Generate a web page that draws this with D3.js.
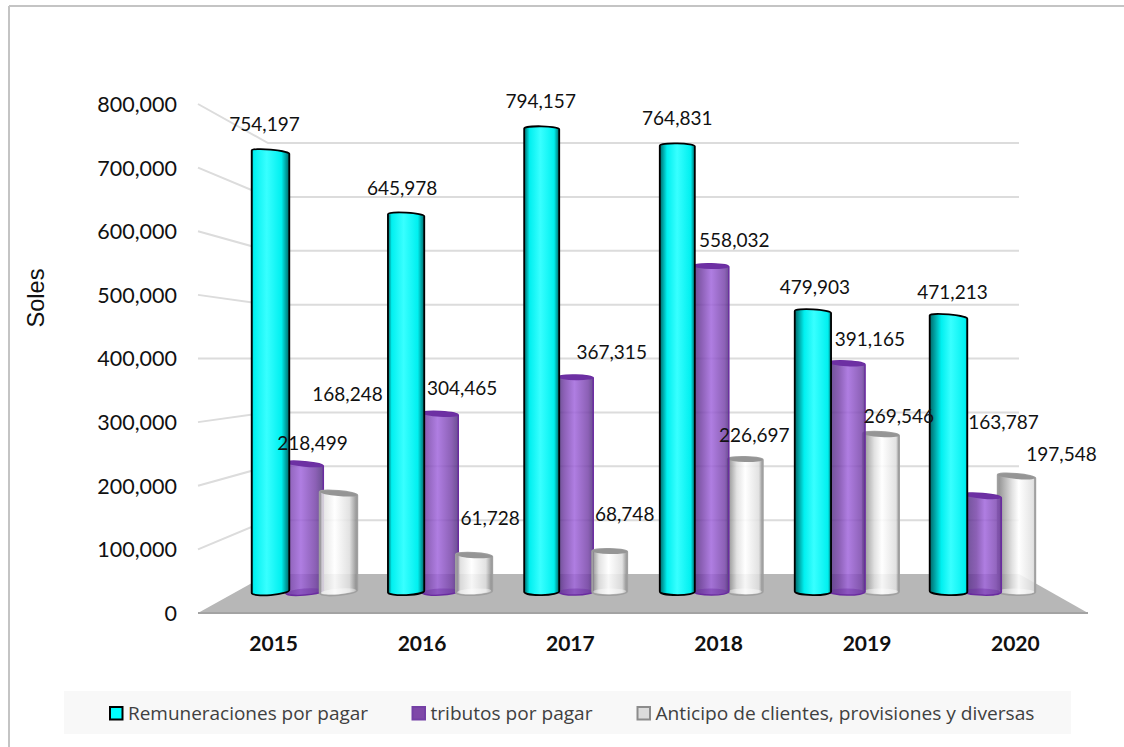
<!DOCTYPE html>
<html lang="es">
<head>
<meta charset="utf-8">
<title>Soles por año</title>
<script src="https://cdn.jsdelivr.net/npm/d3@7/dist/d3.min.js"></script>
<style>
  html, body { margin: 0; padding: 0; background: #fff; }
  svg { display: block; }
</style>
</head>
<body>
<svg id="chart" width="1124" height="747"></svg>
<script>
// Balances in soles, one array per series
const years = ["2015", "2016", "2017", "2018", "2019", "2020"];
const remuneraciones = [754197, 645978, 794157, 764831, 479903, 471213];
const tributos = [218499, 304465, 367315, 558032, 391165, 163787];
const anticipos = [168248, 61728, 68748, 226697, 269546, 197548];
const seriesNames = ["Remuneraciones por pagar", "tributos por pagar", "Anticipo de clientes, provisiones y diversas"];
const axisTicks = [0, 100000, 200000, 300000, 400000, 500000, 600000, 700000, 800000];

// Hand-placed label offsets from each cylinder's top centre, [dx, dy]
const remuneracionesNudge = [[-6,-28],[-4,-27],[-1,-28],[0,-28],[2,-25],[4,-25]];
const tributosNudge = [[8,-21],[22,-26],[36,-25],[23,-26],[23,-24],[21,-74]];
const anticiposNudge = [[9,-99],[16,-37],[15,-37],[9,-24],[18,-18],[45,-22]];

const series = [
  { key: "rem", values: remuneraciones, nudge: remuneracionesNudge, edge: "#000", cap: null, opacity: 1, strokeW: 1.8,
    dark: "#006768", mid: "#00f0f0", light: "#38ffff", shadeScale: 1 },
  { key: "tri", values: tributos, nudge: tributosNudge, edge: "#6a2ba0", cap: "#6d30a3", opacity: 0.84, strokeW: 1.5,
    dark: "#4f2f7d", mid: "#7642a8", light: "#a065dc", shadeScale: 1.1 },
  { key: "ant", values: anticipos, nudge: anticiposNudge, edge: "#a0a0a0", cap: "#959595", opacity: 0.88, strokeW: 1.8,
    dark: "#808080", mid: "#dedede", light: "#ffffff", shadeScale: 1.25 }
];

const svg = d3.select("#chart");
const defs = svg.append("defs");

// Outer frame: only the top and left rules are visible
svg.append("line").attr("x1", 9).attr("x2", 1124).attr("y1", 6).attr("y2", 6).attr("stroke", "#c4c4c4").attr("stroke-width", 2);
svg.append("line").attr("x1", 9).attr("x2", 9).attr("y1", 6).attr("y2", 747).attr("stroke", "#c4c4c4").attr("stroke-width", 2);

// Perspective box: front plane, back plane and the scale for bars standing mid-depth
const front = { left: 198, right: 1088, base: 613, top: 104 };
const back = { left: 268, right: 1019, base: 574, top: 143 };
const yFront = d3.scaleLinear().domain([0, 800000]).range([front.base, front.top]);
const yBack = d3.scaleLinear().domain([0, 800000]).range([back.base, back.top]);
const yBar = d3.scaleLinear().domain([0, 800000]).range([591.5, 125.5]);
const xFront = d3.scaleBand().domain(years).range([front.left, front.right]);
const xBars = d3.scaleBand().domain(years).range([236.7, 1050.3]);
const xSeries = d3.scalePoint().domain(series.map(s => s.key)).range([-34, 34]);
const BAR_BASE = yBar(0);

// Floor
svg.append("polygon")
  .attr("points", [[front.left, front.base], [front.right, front.base], [back.right, back.base], [back.left, back.base]].join(" "))
  .attr("fill", "#b7b7b7");
svg.append("line").attr("x1", front.left).attr("x2", front.right).attr("y1", front.base).attr("y2", front.base)
  .attr("stroke", "#a3a3a3").attr("stroke-width", 2);

// Gridlines along the back wall and down the side wall
const grid = svg.append("g").attr("stroke", "#dcdcdc").attr("stroke-width", 2).attr("fill", "none");
axisTicks.filter(d => d > 0).forEach(d => {
  grid.append("polyline")
    .attr("points", [[front.left, yFront(d)], [back.left, yBack(d)], [back.right, yBack(d)]].join(" "));
});

// Cylinder geometry; shading and cap skew follow the position across the floor
const centre = (xBars(years[0]) + xBars(years[5]) + xBars.bandwidth()) / 2;
const halfSpan = (xBars(years[5]) - xBars(years[0])) / 2;

function addGradient(id, s, t) {
  const shadeL = (0.05 + 0.13 * (t + 1)) * s.shadeScale;
  const shadeR = 0.05 + 0.08 * (1 - t);
  const hi = Math.max(shadeL + 0.1, 0.4 + 0.16 * (t + 1) / 2);
  const g = defs.append("linearGradient").attr("id", id).attr("x1", 0).attr("x2", 1).attr("y1", 0).attr("y2", 0);
  [[0, s.dark], [shadeL, s.mid], [hi, s.light], [1 - shadeR, s.mid], [1, s.dark]].forEach(([o, c]) => {
    g.append("stop").attr("offset", o).attr("stop-color", c);
  });
}

const barsLayer = svg.append("g");
years.forEach((year, i) => {
  // Toward the right of the floor the purple cylinder sits in front of the grey one
  const order = i >= 3 ? ["ant", "tri", "rem"] : ["tri", "ant", "rem"];
  order.forEach(key => {
    const s = series.find(e => e.key === key);
    const cx = xBars(year) + xBars.bandwidth() / 2 + xSeries(key);
    const t = (xBars(year) + xBars.bandwidth() / 2 - centre) / halfSpan;
    const rx = 17.2 + 1.6 * Math.abs(t);
    const ryTop = 2.6;
    const ryBase = 3.6;
    const tilt = 1.7 * Math.abs(t);
    const baseTilt = t < 0 ? -1.5 * Math.abs(t) : 0.5 * t;
    const top = yBar(s.values[i]);
    const rot = Math.atan2(tilt, rx) * 180 / Math.PI;
    const rotB = Math.atan2(baseTilt, rx) * 180 / Math.PI;
    const id = `cyl-${s.key}-${year}`;
    addGradient(id, s, t);
    const g = barsLayer.append("g").attr("class", "cylinder");
    g.append("path")
      .attr("d", `M${cx - rx} ${top - tilt}L${cx - rx} ${BAR_BASE - baseTilt}` +
        `A${rx} ${ryBase} ${rotB} 0 0 ${cx + rx} ${BAR_BASE + baseTilt}` +
        `L${cx + rx} ${top + tilt}` +
        `A${rx} ${ryTop} ${rot} 0 0 ${cx - rx} ${top - tilt}Z`)
      .attr("fill", `url(#${id})`)
      .attr("fill-opacity", s.opacity)
      .attr("stroke", s.edge)
      .attr("stroke-width", s.strokeW)
      .attr("stroke-linejoin", "round");
    if (s.cap) {
      // Lid, plus the faint rim of the base seen through the translucent body
      g.append("ellipse").attr("cx", cx).attr("cy", top)
        .attr("rx", rx).attr("ry", ryTop)
        .attr("transform", `rotate(${rot} ${cx} ${top})`)
        .attr("fill", s.cap);
      g.append("ellipse").attr("cx", cx).attr("cy", BAR_BASE)
        .attr("rx", rx - 1).attr("ry", ryBase - 0.6)
        .attr("transform", `rotate(${rotB} ${cx} ${BAR_BASE})`)
        .attr("fill", key === "tri" ? "#6a2ba0" : "#ffffff")
        .attr("fill-opacity", key === "tri" ? 0.4 : 0.4);
    }
  });
});

// Value labels
const labels = svg.append("g")
  .attr("font-family", "Lato, 'Noto Sans', sans-serif")
  .attr("font-size", 19)
  .attr("fill", "#111")
  .attr("text-anchor", "middle");
series.forEach(s => {
  years.forEach((year, i) => {
    const cx = xBars(year) + xBars.bandwidth() / 2 + xSeries(s.key);
    labels.append("text")
      .attr("x", cx + s.nudge[i][0])
      .attr("y", yBar(s.values[i]) + s.nudge[i][1])
      .attr("dy", "0.35em")
      .text(d3.format(",")(s.values[i]));
  });
});

// Value axis on the front edge
const yAxis = d3.axisLeft(yFront).tickValues(axisTicks).tickSize(0).tickPadding(0).tickFormat(d3.format(","));
const yG = svg.append("g").attr("transform", "translate(177,0.5)").call(yAxis);
yG.select(".domain").remove();
yG.selectAll("text").attr("font-family", "Lato, 'Noto Sans', sans-serif").attr("font-size", 21.5).attr("fill", "#111");

svg.append("text")
  .attr("transform", "translate(36,298) rotate(-90)")
  .attr("text-anchor", "middle").attr("dy", "0.35em")
  .attr("font-family", "'Liberation Sans', Arial, sans-serif").attr("font-size", 23.6).attr("fill", "#111")
  .text("Soles");

// Year axis
const xAxis = d3.axisBottom(xFront).tickSize(0).tickPadding(0);
const xG = svg.append("g").attr("transform", "translate(1.5,636)").call(xAxis);
xG.select(".domain").remove();
xG.selectAll("text").attr("font-family", "Lato, 'Noto Sans', sans-serif").attr("font-size", 21)
  .attr("font-weight", 700).attr("fill", "#111");

// Legend strip
svg.append("rect").attr("x", 64).attr("y", 691).attr("width", 1007).attr("height", 43).attr("fill", "#f8f8f8");
const legendSwatchX = d3.scaleOrdinal().domain(series.map(s => s.key)).range([110, 412.5, 637.5]);
const legendTextLen = [240, 162, 379];
const legendFill = ["#00ffff", "#7f48a8", "#dcdcdc"];
const legendEdge = ["#000000", "#7440a5", "#8c8c8c"];
series.forEach((s, i) => {
  const x = legendSwatchX(s.key);
  svg.append("rect").attr("x", x).attr("y", 707).attr("width", 12.5).attr("height", 12.5)
    .attr("fill", legendFill[i]).attr("stroke", legendEdge[i]).attr("stroke-width", 2);
  svg.append("text").attr("x", x + 18).attr("y", 713).attr("dy", "0.35em")
    .attr("font-family", "'Open Sans', sans-serif").attr("font-size", 19).attr("fill", "#404040")
    .attr("textLength", legendTextLen[i]).attr("lengthAdjust", "spacingAndGlyphs")
    .text(seriesNames[i]);
});
</script>
</body>
</html>
